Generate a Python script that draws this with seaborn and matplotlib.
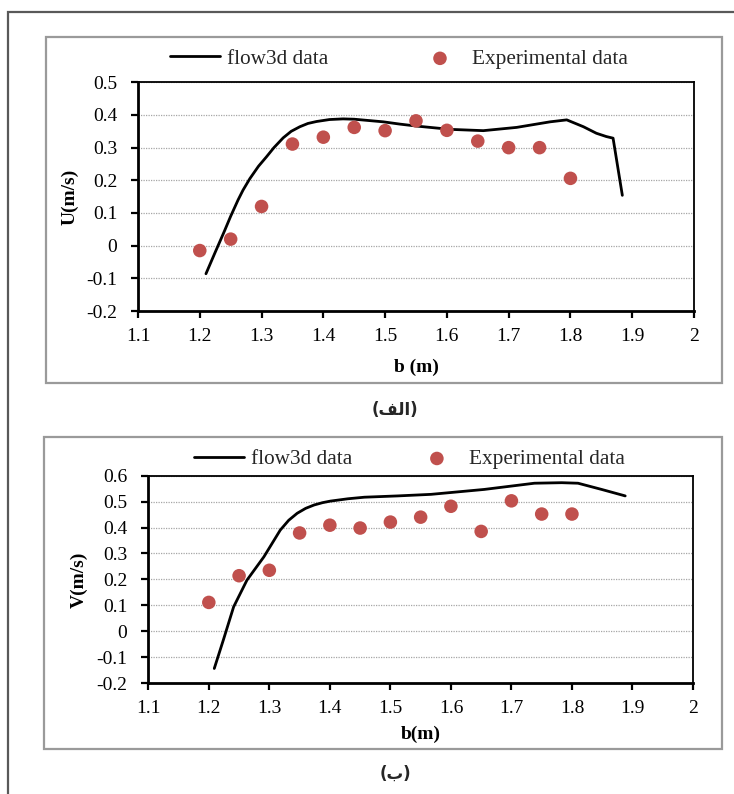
import matplotlib
matplotlib.use('Agg')
import matplotlib.pyplot as plt
import seaborn as sns
import numpy as np
import pandas as pd
from matplotlib.patches import Rectangle

# ---------------- data ----------------
u_sim_b = [1.21, 1.225, 1.24, 1.25, 1.262, 1.27, 1.281, 1.295, 1.308, 1.32, 1.335,
           1.348, 1.362, 1.375, 1.389, 1.41, 1.432, 1.45, 1.497, 1.524, 1.551,
           1.605, 1.659, 1.713, 1.767, 1.794, 1.821, 1.842, 1.858, 1.869, 1.884]
u_sim = [-0.086, -0.02, 0.045, 0.09, 0.14, 0.17, 0.205, 0.243, 0.272, 0.3, 0.33,
         0.35, 0.364, 0.374, 0.38, 0.386, 0.388, 0.387, 0.379, 0.372, 0.366,
         0.356, 0.352, 0.362, 0.379, 0.385, 0.364, 0.344, 0.334, 0.329, 0.154]
u_exp_b = [1.2, 1.25, 1.3, 1.35, 1.4, 1.45, 1.5, 1.55, 1.6, 1.65, 1.7, 1.75, 1.8]
u_exp = [-0.015, 0.02, 0.12, 0.311, 0.332, 0.362, 0.352, 0.382, 0.353, 0.32, 0.30, 0.30, 0.206]

v_sim_b = [1.209, 1.224, 1.241, 1.263, 1.291, 1.318, 1.332, 1.346, 1.36, 1.374, 1.388,
           1.401, 1.43, 1.457, 1.512, 1.567, 1.655, 1.738, 1.783, 1.810, 1.849, 1.888]
v_sim = [-0.144, -0.034, 0.094, 0.197, 0.287, 0.39, 0.428, 0.455, 0.474, 0.487, 0.496,
         0.502, 0.511, 0.517, 0.522, 0.528, 0.547, 0.571, 0.573, 0.571, 0.547, 0.522]
v_exp_b = [1.2, 1.25, 1.3, 1.35, 1.4, 1.45, 1.5, 1.55, 1.6, 1.65, 1.7, 1.75, 1.8]
v_exp = [0.111, 0.214, 0.235, 0.379, 0.409, 0.398, 0.421, 0.44, 0.482, 0.385, 0.503, 0.452, 0.452]

x_ticks = [1.1, 1.2, 1.3, 1.4, 1.5, 1.6, 1.7, 1.8, 1.9, 2.0]
x_tick_labels = ['1.1', '1.2', '1.3', '1.4', '1.5', '1.6', '1.7', '1.8', '1.9', '2']
u_ticks = [-0.2, -0.1, 0, 0.1, 0.2, 0.3, 0.4, 0.5]
u_tick_labels = ['-0.2', '-0.1', '0', '0.1', '0.2', '0.3', '0.4', '0.5']
v_ticks = [-0.2, -0.1, 0, 0.1, 0.2, 0.3, 0.4, 0.5, 0.6]
v_tick_labels = ['-0.2', '-0.1', '0', '0.1', '0.2', '0.3', '0.4', '0.5', '0.6']

sim_label = 'flow3d data'
exp_label = 'Experimental data'
caption_a = '(\uFED2\uFEDF\uFE8D)'   # (الف) in visual order with presentation forms
caption_b = '(ب)'

# ---------------- style ----------------
sns.set_theme(style='white')
plt.rcParams['font.family'] = ['Liberation Serif', 'DejaVu Sans']

W, H = 734, 794
fig = plt.figure(figsize=(W / 100, H / 100), dpi=100)


def fx(px):
    return px / W


def fy(py):
    return 1 - py / H


# outer frame
fig.add_artist(Rectangle((fx(8), -0.05), 1.2, fy(12) + 0.05, fill=False,
                         ec='#595959', lw=1.6, transform=fig.transFigure))
# chart boxes
fig.add_artist(Rectangle((fx(46), fy(382.7)), fx(722 - 46), (382.7 - 37) / H, fill=False,
                         ec='#9a9a9a', lw=1.6, transform=fig.transFigure))
fig.add_artist(Rectangle((fx(43.7), fy(749)), fx(721.7 - 43.7), (749 - 437) / H, fill=False,
                         ec='#9a9a9a', lw=1.6, transform=fig.transFigure))

ax1 = fig.add_axes([fx(138), fy(311), fx(694 - 138), (311 - 82.3) / H])
ax2 = fig.add_axes([fx(148.3), fy(683), fx(693 - 148.3), (683 - 475.7) / H])

red = '#C0504D'


def draw(ax, sb, sv, eb, ev, yticks, ylabels, ylabel, xlabel, ylab_x, xlab_y, leg_xy, colsp):
    sim = pd.DataFrame({'b': sb, 'v': sv})
    exp = pd.DataFrame({'b': eb, 'v': ev})
    sns.lineplot(data=sim, x='b', y='v', ax=ax, color='black', lw=2.0, sort=False,
                 estimator=None, label=sim_label, zorder=3)
    sns.scatterplot(data=exp, x='b', y='v', ax=ax, color=red, s=95, edgecolor='none',
                    label=exp_label, zorder=4)
    ax.set_xlim(1.1, 2.0)
    ax.set_ylim(yticks[0], yticks[-1])
    ax.set_xticks(x_ticks)
    ax.set_xticklabels(x_tick_labels)
    ax.set_yticks(yticks)
    ax.set_yticklabels(ylabels)
    ax.yaxis.grid(True, linestyle=(0, (1, 1)), color='#a6a6a6', lw=0.9)
    ax.xaxis.grid(False)
    ax.set_axisbelow(True)
    for side in ['top', 'right']:
        ax.spines[side].set_color('black')
        ax.spines[side].set_linewidth(1.3)
    for side in ['left', 'bottom']:
        ax.spines[side].set_color('black')
        ax.spines[side].set_linewidth(2.0)
    ax.tick_params(axis='both', which='major', bottom=True, left=True, direction='out',
                   length=5, width=1.6, color='black', labelsize=14, labelcolor='black')
    ax.tick_params(axis='y', pad=10)
    ax.tick_params(axis='x', pad=7)
    ax.set_ylabel(ylabel, fontweight='bold', fontsize=14, color='black')
    ax.set_xlabel(xlabel, fontweight='bold', fontsize=14, color='black')
    ax.yaxis.set_label_coords(ylab_x, 0.5)
    ax.xaxis.set_label_coords(0.5, xlab_y)
    ax.legend(loc='center', bbox_to_anchor=leg_xy, ncol=2, frameon=False,
              fontsize=15.3, handlelength=2.35, columnspacing=colsp, handletextpad=0.33,
              borderaxespad=0.0, borderpad=0.0)


draw(ax1, u_sim_b, u_sim, u_exp_b, u_exp, u_ticks, u_tick_labels, 'U(m/s)', 'b (m)',
     -0.106, -0.21, (0.469, 1.102), 4.1)
draw(ax2, v_sim_b, v_sim, v_exp_b, v_exp, v_ticks, v_tick_labels, 'V(m/s)', 'b(m)',
     -0.1107, -0.205, (0.4795, 1.08), 2.8)

fig.text(fx(395), fy(410), caption_a, ha='center', va='center', fontsize=12,
         fontweight='bold', family=['DejaVu Sans'])
fig.text(fx(395), fy(774), caption_b, ha='center', va='center', fontsize=12,
         fontweight='bold', family=['DejaVu Sans'])

fig.savefig('out.png', dpi=100, facecolor='white')
